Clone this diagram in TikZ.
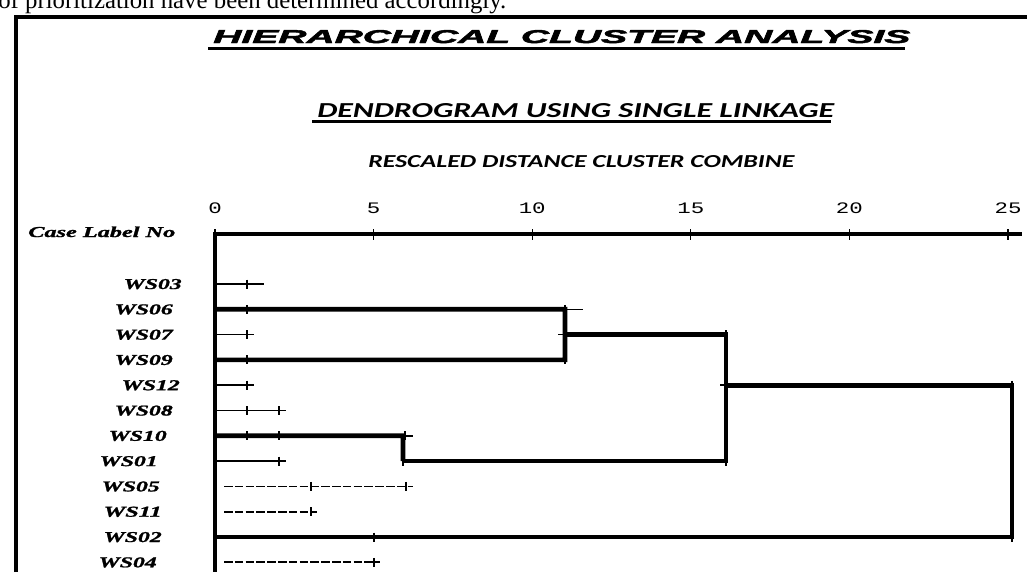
\documentclass[tikz,border=0pt]{standalone}
\usepackage{fontspec}
\usepackage{graphicx}
\setmainfont{Liberation Serif}
\newfontfamily\blackfont[FakeBold=2.2]{Liberation Sans Bold Italic}
\newfontfamily\casefont[FakeBold=1.2]{Liberation Serif Bold Italic}
\newfontfamily\calfont{Carlito}
\newfontfamily\numfont{Liberation Mono}
\usetikzlibrary{positioning}
\newdimen\pxu \pxu=0.75pt
\newcommand{\fitbox}[3]{\resizebox{#1\pxu}{#2\pxu}{#3}}

\begin{document}
\begin{tikzpicture}[x=0.75pt, y=-0.75pt,
    frame/.style={line width=3pt},
    fuse/.style={line width=3.5pt, line join=miter},
    leaf/.style={line width=1.1pt},
    gap/.style={line width=1.3pt, dash pattern=on 6.5pt off 1.6pt},
    tickmark/.style={line width=1pt},
    case/.style={anchor=base east, inner sep=0pt, font=\casefont},
    num/.style={anchor=base, inner sep=0pt}]
  \clip (0,0) rectangle (1027,572);
  \fill[white] (0,0) rectangle (1027,572);

  % text of the page above the figure
  \node[anchor=base west, inner sep=0pt, font=\fontsize{18.6pt}{20pt}\selectfont] (prev) at (-2,8) {of prioritization have been determined accordingly.};
  \draw[frame] (15.5,572) -- (15.5,16.5) -- (1027,16.5);

  % headings
  \node[anchor=base west, inner sep=0pt] (title) at (213,43) {\fitbox{697}{13}{\blackfont HIERARCHICAL CLUSTER ANALYSIS}};
  \draw[line width=2.2pt] (208,48.5) -- (905,48.5);
  \node[anchor=base west, inner sep=0pt] (sub) at (317,117) {\fitbox{517}{14}{\calfont\bfseries\itshape DENDROGRAM USING SINGLE LINKAGE}};
  \draw[line width=2.2pt] (312,121.5) -- (831,121.5);
  \node[anchor=base west, inner sep=0pt] (scale) at (368,167) {\fitbox{426}{12}{\calfont\bfseries\itshape RESCALED DISTANCE CLUSTER COMBINE}};

  % distance axis
  \node[anchor=base west, inner sep=0pt] (caselab) at (28,237) {\fitbox{147}{10.5}{\casefont Case Label No}};
  \coordinate (ax0) at (213,234);
  \coordinate (ax1) at (1022,234);
  \draw[frame] (ax0) -- (ax1);
  \foreach \d in {0,5,...,25} {
    \draw[tickmark] (215+31.72*\d,229) -- (215+31.72*\d,239.5);
    \node[num] (n\d) at (215+31.72*\d,213) {\scalebox{1.4}[1]{\numfont\fontsize{12pt}{12pt}\selectfont\d}};
  }
  \draw[line width=3.6pt] (215,232) -- (215,572);

  % cases
  \foreach \c/\lx/\r in {03/182/0, 06/173/1, 07/173/2, 09/173/3, 12/180/4, 08/173/5,
                        10/167/6, 01/158/7, 05/160/8, 11/162/9, 02/162/10, 04/157/11} {
    \node[case] (ws\c) at (\lx,289+25.3*\r) {\fitbox{58}{10}{WS\c}};
    \coordinate (s\c) at (217,284+25.3*\r);
  }

  % merge points
  \coordinate (a1) at (565,309.3);
  \coordinate (a2) at (565,359.9);
  \coordinate (a) at (565,334.6);
  \coordinate (b1) at (403,435.8);
  \coordinate (b2) at (403,461.1);
  \coordinate (c1) at (726,334.6);
  \coordinate (c2) at (726,461.1);
  \coordinate (c) at (726,385.2);
  \coordinate (d1) at (1012,385.2);
  \coordinate (d2) at (1012,537);

  \draw[fuse] (s06) -- (a1) -- (a2) -- (s09);
  \draw[fuse] (a) -- (c1) -- (c2) -- (b2);
  \draw[fuse] (s10) -- (b1) -- (b2);
  \draw[fuse] (c) -- (d1) -- (d2) -- (s02);

  \draw[leaf] (s03) -- ++(47,0);
  \draw[leaf] (s07) -- ++(37,0);
  \draw[leaf] (s12) -- ++(37,0);
  \draw[leaf] (s08) -- ++(69,0);
  \draw[leaf] (s01) -- ++(69,0);
  \draw[leaf] (a1) -- ++(18,0);
  \draw[leaf] (b1) -- ++(10,0);
  \draw[leaf] (a) -- ++(-7,0);
  \draw[leaf] (c) -- ++(-6,0);
  \draw[gap] (s05) ++(7,0) -- ++(189,0);
  \draw[gap] (s11) ++(7,0) -- ++(93,0);
  \draw[gap] (s04) ++(7,0) -- ++(156,0);

  \foreach \tx/\ty in {247/284, 247/309.3, 247/334.6, 247/359.9, 247/385.2, 247/410.5,
                       247/435.8, 279/410.5, 279/435.8, 279/461.1, 311/486.4, 311/511.7,
                       406/486.4, 405/435.8, 374/537, 374/562.3, 565/309.3, 565/359.9,
                       726/334.6, 726/461.1, 1012/385.2, 1012/537, 403/461.1}
    \draw[tickmark] (\tx,\ty-4.5) -- (\tx,\ty+4.5);
\end{tikzpicture}
\end{document}
